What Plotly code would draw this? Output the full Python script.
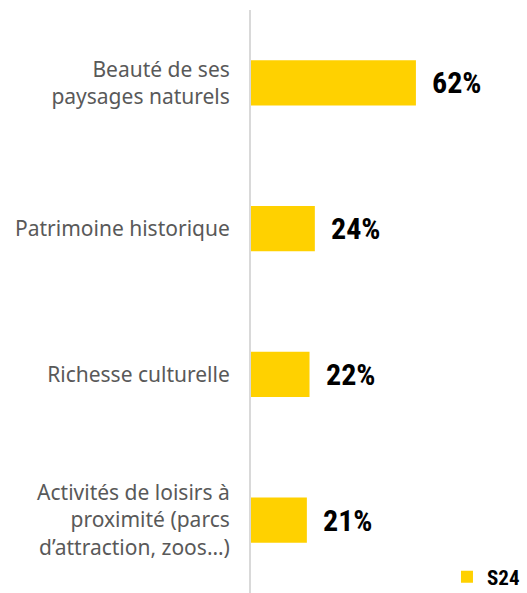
import plotly.graph_objects as go

categories = [
    "Beauté de ses<br>paysages naturels",
    "Patrimoine historique",
    "Richesse culturelle",
    "Activités de loisirs à<br>proximité (parcs<br>d’attraction, zoos…)",
]
values = [62, 24, 22, 21]
series_name = "S24"

BAR_COLOR = "#FFD100"
NUM_FONT = "Liberation Sans Narrow, Roboto Condensed, DejaVu Sans Condensed, sans-serif"

fig = go.Figure()
fig.add_trace(go.Bar(
    y=categories,
    x=values,
    orientation="h",
    name=series_name,
    marker=dict(color=BAR_COLOR, line=dict(width=0)),
    showlegend=True,
))

# value labels to the right of each bar
for cat, v in zip(categories, values):
    fig.add_annotation(
        x=v, y=cat, text=f"{v}%", showarrow=False,
        xanchor="left", yanchor="middle", xshift=14,
        font=dict(family=NUM_FONT, size=30, color="#000000", weight="bold"),
    )

fig.update_layout(
    width=527, height=593,
    margin=dict(l=251, r=10, t=10, b=0, autoexpand=False),
    paper_bgcolor="white", plot_bgcolor="white",
    bargap=0.69,
    font=dict(family="Noto Sans, Liberation Sans, Arial, sans-serif", size=21, color="#595959"),
    legend=dict(
        x=1.03, y=-0.008, xanchor="right", yanchor="bottom",
        font=dict(family=NUM_FONT, size=21, color="#000000", weight="bold"),
        itemwidth=30, bgcolor="rgba(0,0,0,0)",
    ),
    xaxis=dict(range=[0, 100], visible=False, fixedrange=True),
    yaxis=dict(
        autorange="reversed",
        showline=True, linecolor="#d9d9d9", linewidth=2,
        showgrid=False, zeroline=False, ticks="",
        ticklabelstandoff=15,
    ),
)

fig.write_html("out.html")
